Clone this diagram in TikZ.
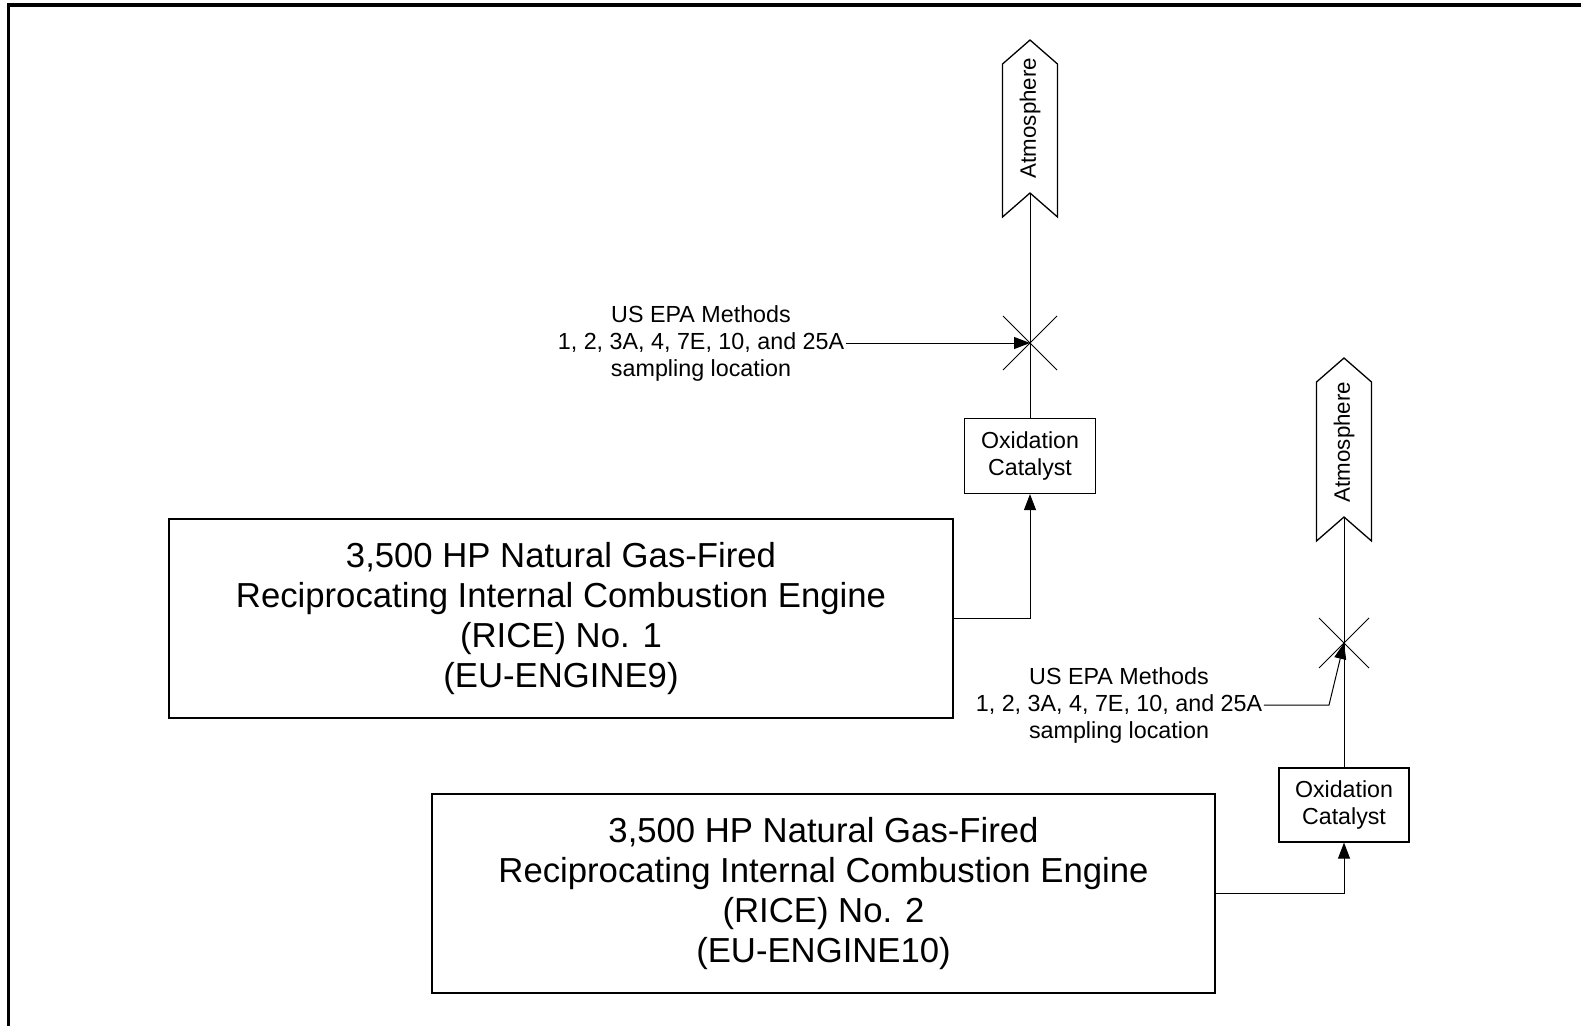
\documentclass[tikz,border=0pt]{standalone}
\usepackage{fontspec}
\setmainfont{Liberation Sans}
\usetikzlibrary{arrows.meta}
\begin{document}
\begin{tikzpicture}[x=1pt,y=-1pt,
  enginebox/.style={draw,line width=1.2pt,minimum width=784pt,minimum height=199pt,align=center,inner sep=0pt,font=\fontsize{34.7}{40}\selectfont},
  catbox/.style={draw,line width=1.2pt,minimum width=131pt,minimum height=75pt,align=center,inner sep=0pt,font=\fontsize{23.2}{26.5}\selectfont},
  lbl/.style={align=center,inner sep=1.5pt,font=\fontsize{23.3}{27}\selectfont},
  atmtext/.style={rotate=90,inner sep=0pt,font=\fontsize{22.3}{26}\selectfont},
  atmshape/.style={draw,line width=1.3pt,line join=miter},
  flow/.style={line width=1pt},
  arr/.style={line width=1pt,-{Triangle[length=16pt,width=12pt]}},
  xmark/.style={line width=0.9pt},
  frame/.style={line width=3.2pt}
]
\useasboundingbox (0,0) rectangle (1581,1026);
% frame
\draw[frame] (7,5) -- (1581,5);
\draw[frame] (8.5,5) -- (8.5,1026);

% engines
\node[enginebox] (eng1) at (561,618.5) {3,500 HP Natural Gas-Fired\\Reciprocating Internal Combustion Engine\\(RICE) No. 1\\(EU-ENGINE9)};
\node[enginebox,minimum width=783pt] (eng2) at (823.5,893.5) {3,500 HP Natural Gas-Fired\\Reciprocating Internal Combustion Engine\\(RICE) No. 2\\(EU-ENGINE10)};

% catalysts
\node[catbox] (cat1) at (1030,456) {Oxidation\\Catalyst};
\node[catbox,minimum width=130pt,minimum height=74pt] (cat2) at (1344,805) {Oxidation\\Catalyst};

% atmosphere stacks
\draw[atmshape] (1030,40) -- (1057.5,64) -- (1057.5,217) -- (1030,193) -- (1002.5,217) -- (1002.5,64) -- cycle;
\coordinate (atm1b) at (1030,193);
\node[atmtext] (atm1) at (1030,118) {Atmosphere};
\draw[atmshape] (1344,358) -- (1371.5,382) -- (1371.5,541) -- (1344,517) -- (1316.5,541) -- (1316.5,382) -- cycle;
\coordinate (atm2b) at (1344,517);
\node[atmtext] (atm2) at (1344,442) {Atmosphere};

% sampling points
\coordinate (s1) at (1030,343);
\draw[xmark] (1003,316) -- (1057,370);
\draw[xmark] (1003,370) -- (1057,316);
\coordinate (s2) at (1344,643);
\draw[xmark] (1319,618) -- (1369,668);
\draw[xmark] (1319,668) -- (1369,618);

% flows
\draw[arr] (eng1.east) -| (cat1.south);
\draw[flow] (cat1.north) -- (atm1b);
\draw[arr] (eng2.east) -| (cat2.south);
\draw[flow] (cat2.north) -- (atm2b);

% labels
\node[lbl] (lab1) at (701,343) {US EPA Methods\\1, 2, 3A, 4, 7E, 10, and 25A\\sampling location};
\draw[arr] (lab1.east) -- (s1);
\node[lbl] (lab2) at (1119,705) {US EPA Methods\\1, 2, 3A, 4, 7E, 10, and 25A\\sampling location};
\coordinate (k2) at (1329,705);
\draw[arr] (lab2.east) -- (k2) -- (s2);
\end{tikzpicture}
\end{document}
